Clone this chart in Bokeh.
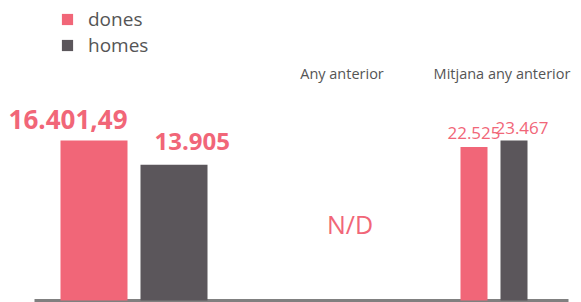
from bokeh.plotting import figure
from bokeh.models import Range1d, ColumnDataSource, Legend, LegendItem, Label
from bokeh.core.properties import value
from bokeh.embed import file_html
from bokeh.resources import INLINE

# ---- data ----
series = ["dones", "homes"]
current_values = [16401.49, 13905]
avg_prev_year_values = [22525, 23467]
group_titles = ["Any anterior", "Mitjana any anterior"]
missing_text = "N/D"

PINK = "#F16678"
GRAY = "#5B565B"
TEXT_GRAY = "#555555"
FONT = "Open Sans"


def fmt(v):
    if abs(v - round(v)) > 1e-9:
        s = f"{v:,.2f}"
    else:
        s = f"{int(round(v)):,}"
    return s.replace(",", "X").replace(".", ",").replace("X", ".")


W, H = 581, 302
BAR_PX = 160       # pixel height of the tallest bar in each group
BASE_PX = 2        # baseline distance above the frame bottom


def yrange(vals):
    m = max(vals)
    s = m / BAR_PX
    return Range1d(-BASE_PX * s, (H - BASE_PX) * s)


p = figure(width=W, height=H, x_range=Range1d(0, W), y_range=yrange(current_values),
           output_backend="svg", toolbar_location=None, min_border=0,
           x_axis_location=None, y_axis_location=None)
p.extra_y_ranges = {"avg": yrange(avg_prev_year_values)}
p.grid.visible = False
p.outline_line_color = None
p.background_fill_color = None
p.border_fill_color = None

# baseline
p.segment(x0=[34], x1=[568], y0=[0], y1=[0], line_width=3, line_color="#808080")

colors = [PINK, GRAY]

# current group
cur = ColumnDataSource(dict(x=[93.5, 173.5], top=current_values, color=colors,
                            label=[fmt(v) for v in current_values]))
r_cur = p.vbar(x="x", top="top", bottom=0, width=67, fill_color="color",
               line_color=None, source=cur)

# average previous year group
avg = ColumnDataSource(dict(x=[473.5, 513.5], top=avg_prev_year_values, color=colors,
                            label=[fmt(v) for v in avg_prev_year_values],
                            xo=[0, 8], yo=[-14, -13]))
p.vbar(x="x", top="top", bottom=0, width=27, fill_color="color",
       line_color=None, source=avg, y_range_name="avg")

# value labels, current group
p.text(x=[cur.data["x"][0] + 33.5], y=[current_values[0]], text=[cur.data["label"][0]],
       text_align="right", text_baseline="alphabetic", y_offset=-21,
       text_font=value(FONT), text_font_style="bold", text_font_size="26px",
       text_color=PINK)
p.text(x=[cur.data["x"][1] - 19.5], y=[current_values[1]], text=[cur.data["label"][1]],
       text_align="left", text_baseline="alphabetic", y_offset=-23,
       text_font=value(FONT), text_font_style="bold", text_font_size="24px",
       text_color=PINK)

# value labels, average group
p.text(x="x", y="top", text="label", source=avg, y_range_name="avg",
       x_offset="xo", y_offset="yo",
       text_align="center", text_baseline="alphabetic",
       text_font=value(FONT), text_font_size="17px", text_color=PINK)

# group titles
for t, cx in zip(group_titles, [341.5, 501.5]):
    p.add_layout(Label(x=cx, y=H - 73, y_units="screen", text=t, text_align="center",
                       text_baseline="alphabetic", text_font=FONT, text_font_size="14.5px",
                       text_color=TEXT_GRAY))

# missing value
p.add_layout(Label(x=349.5, y=H - 223, y_units="screen", text=missing_text,
                   text_align="center", text_baseline="alphabetic", text_font=FONT,
                   text_font_size="25px", text_color=PINK))

# legend
items = [LegendItem(label=series[i], renderers=[r_cur], index=i) for i in range(2)]
legend = Legend(items=items, location=(60, H - 58), orientation="vertical",
                glyph_width=14, glyph_height=14, label_height=22, spacing=0,
                label_standoff=14, padding=0, margin=0, border_line_color=None,
                background_fill_alpha=0, label_text_font=FONT,
                label_text_font_size="19px", label_text_color=TEXT_GRAY)
p.add_layout(legend)

open("out.html", "w").write(file_html(p, INLINE))
